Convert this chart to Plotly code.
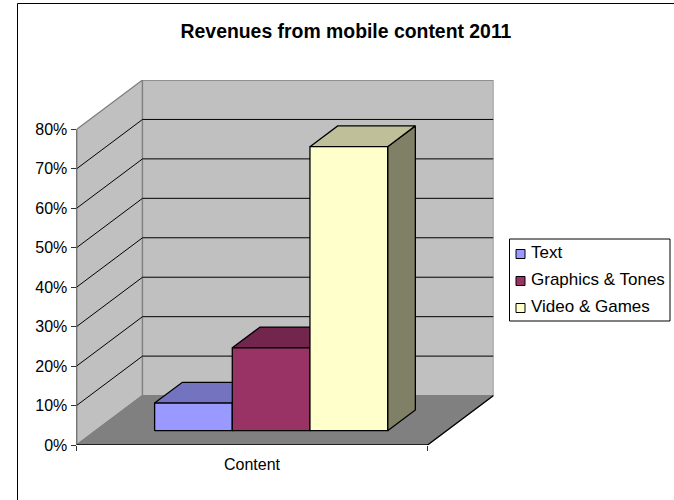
import plotly.graph_objects as go

# Chart content
TITLE = "Revenues from mobile content 2011"
CATEGORY = "Content"
SERIES = ["Text", "Graphics & Tones", "Video & Games"]
VALUES = [7, 21, 72]
Y_TICKS = [0, 10, 20, 30, 40, 50, 60, 70, 80]

# Face colours for each series: front, top, side
FRONT = ["#9999FF", "#993366", "#FFFFCC"]
TOP = ["#7373BF", "#73264D", "#BFBF99"]
SIDE = ["#565690", "#561D39", "#808066"]

WALL = "#C0C0C0"
FLOOR = "#808080"
EDGE = "#808080"
INK = "#000000"
FONT = "Liberation Sans"

W, H = 674, 500
FRONT_L, FRONT_R, BACK_R = 76.5, 427.5, 493.5
BASE_Y, TOP_Y = 445.0, 80.0
PX_PER_PCT = 3.95

# Oblique projection: depth 0 is the front plane, depth 1 the back wall
DEPTH_X = (BACK_R - FRONT_R) / (FRONT_R - FRONT_L)
DEPTH_Y = 49.5 / PX_PER_PCT
Y_MAX = Y_TICKS[-1]


def proj(x, v, d):
    return x + d * DEPTH_X, v + d * DEPTH_Y


def poly(points, fill=None, line=INK, width=1.3):
    coords = [proj(*p) for p in points]
    xs = [c[0] for c in coords]
    ys = [c[1] for c in coords]
    if fill:
        xs.append(xs[0])
        ys.append(ys[0])
    return go.Scatter(
        x=xs, y=ys, mode="lines",
        fill="toself" if fill else None,
        fillcolor=fill,
        line=dict(color=line, width=width),
        hoverinfo="skip", showlegend=False,
    )


fig = go.Figure()

# Walls and floor
fig.add_trace(poly([(0, 0, 0), (0, 0, 1), (0, Y_MAX, 1), (0, Y_MAX, 0)], WALL, EDGE))
fig.add_trace(poly([(0, 0, 1), (1, 0, 1), (1, Y_MAX, 1), (0, Y_MAX, 1)], WALL, EDGE))
fig.add_trace(poly([(0, 0, 0), (1, 0, 0), (1, 0, 1), (0, 0, 1)], FLOOR, EDGE))

# Gridlines run along the side wall and across the back wall
for v in Y_TICKS[1:-1]:
    fig.add_trace(poly([(0, v, 0), (0, v, 1), (1, v, 1)], width=1))

# Front and right floor edges, value axis
fig.add_trace(poly([(0, 0, 0), (1, 0, 0), (1, 0, 1)]))
fig.add_trace(poly([(0, 0, 0), (0, Y_MAX, 0)], line="#333333"))

# Columns, painted left to right so each one covers its neighbour's side
BAR_START = 0.168
BAR_W = 0.2213
D0, D1 = 0.29, 0.71
for i, val in enumerate(VALUES):
    x0 = BAR_START + i * BAR_W
    x1 = x0 + BAR_W
    fig.add_trace(poly([(x1, 0, D0), (x1, 0, D1), (x1, val, D1), (x1, val, D0)], SIDE[i]))
    fig.add_trace(poly([(x0, val, D0), (x1, val, D0), (x1, val, D1), (x0, val, D1)], TOP[i]))
    fig.add_trace(poly([(x0, 0, D0), (x1, 0, D0), (x1, val, D0), (x0, val, D0)], FRONT[i]))


def px(x):
    return x / W


def py(y):
    return 1 - y / H


shapes = [
    # Chart frame: only its top and left edges fall inside the page
    dict(type="line", xref="paper", yref="paper", x0=px(17.5), x1=1, y0=py(3.5), y1=py(3.5),
         line=dict(color="#000000", width=1)),
    dict(type="line", xref="paper", yref="paper", x0=px(17.5), x1=px(17.5), y0=py(3.5), y1=0,
         line=dict(color="#000000", width=1)),
    # Legend box
    dict(type="rect", xref="paper", yref="paper", x0=px(509.5), x1=px(670), y0=py(239), y1=py(321),
         line=dict(color="#000000", width=1), fillcolor="#FFFFFF"),
]
annotations = []
for i, name in enumerate(SERIES):
    cy = 253.5 + i * 27
    shapes.append(dict(type="rect", xref="paper", yref="paper",
                       x0=px(516), x1=px(525), y0=py(cy - 4), y1=py(cy + 5),
                       line=dict(color="#000000", width=1), fillcolor=FRONT[i]))
    annotations.append(dict(text=name, xref="paper", yref="paper", x=px(529), y=py(cy - 1),
                            xanchor="left", yanchor="middle", showarrow=False,
                            font=dict(family=FONT, size=17, color="#000000")))

fig.update_layout(
    width=W, height=H,
    margin=dict(l=0, r=0, t=0, b=0, autoexpand=False),
    paper_bgcolor="#FFFFFF", plot_bgcolor="rgba(0,0,0,0)",
    showlegend=False,
    title=dict(text=f"<b>{TITLE}</b>", x=346 / W, xanchor="center", y=py(31), yanchor="middle",
               font=dict(family=FONT, size=19.4, color="#000000")),
    font=dict(family=FONT, size=16, color="#000000"),
    xaxis=dict(
        domain=[px(FRONT_L), px(BACK_R)],
        range=[0, 1 + DEPTH_X],
        showgrid=False, zeroline=False, showline=False,
        tickmode="array", tickvals=[0.5], ticktext=[CATEGORY],
        ticks="", ticklen=0, ticklabelstandoff=8,
        minor=dict(tickmode="array", tickvals=[0, 1], ticks="outside", ticklen=5,
                   tickcolor="#333333", tickwidth=1, showgrid=False),
        tickfont=dict(family=FONT, size=16, color="#000000"),
    ),
    yaxis=dict(
        domain=[py(BASE_Y), py(TOP_Y)],
        range=[0, Y_MAX + DEPTH_Y],
        showgrid=False, zeroline=False, showline=False,
        tickmode="array", tickvals=Y_TICKS,
        ticktext=[f"{v}%" for v in Y_TICKS],
        ticks="outside", ticklen=5, tickcolor="#333333", tickwidth=1,
        tickfont=dict(family=FONT, size=16, color="#000000"),
    ),
    shapes=shapes,
    annotations=annotations,
)

fig.write_html("out.html")
